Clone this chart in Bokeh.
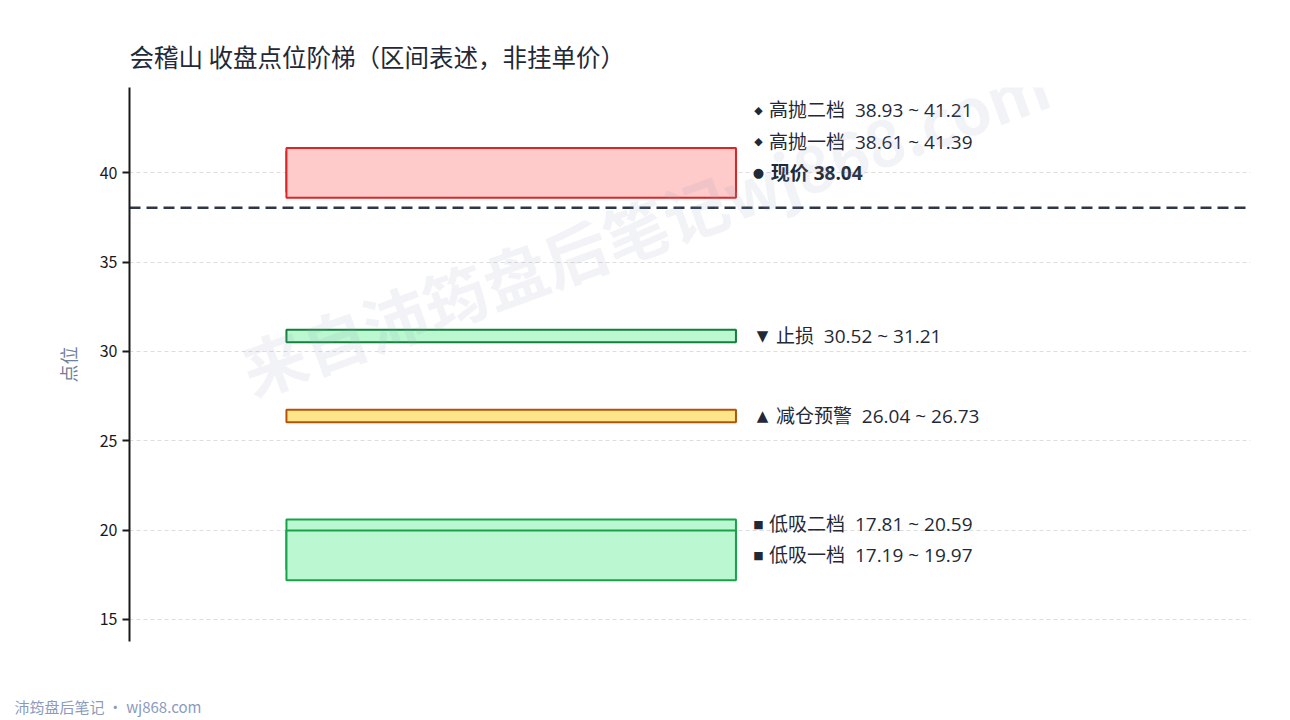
import numpy as np
from bokeh.plotting import figure
from bokeh.models import Label, Range1d, FixedTicker, ColumnDataSource, Title
from bokeh.core.properties import value
from bokeh.embed import file_html
from bokeh.resources import INLINE

# Data section ################################################################

title_text = "会稽山 收盘点位阶梯（区间表述，非挂单价）"
footer_text = "沛筠盘后笔记 · wj868.com"
watermark_text = "来自沛筠盘后笔记wj868.com"

current_price = 38.04

# zones, in drawing order (second tier drawn first, first tier on top)
zone_names = ["高抛二档", "高抛一档", "止损", "减仓预警", "低吸二档", "低吸一档"]
zone_low = [38.93, 38.61, 30.52, 26.04, 17.81, 17.19]
zone_high = [41.21, 41.39, 31.21, 26.73, 20.59, 19.97]
zone_marks = ["◆", "◆", "▼", "▲", "■", "■"]
zone_groups = ["high", "high", "stop", "warn", "low", "low"]

y_ticks = [15, 20, 25, 30, 35, 40]

# Style section ###############################################################

FONT = "Noto Sans CJK SC"
LABEL_FONT = "Open Sans, Noto Sans CJK SC"
fills = {"high": "#fecaca", "stop": "#bbf7d0", "warn": "#fde68a", "low": "#bbf7d0"}
edges = {"high": "#dc2626", "stop": "#15803d", "warn": "#b45309", "low": "#16a34a"}
mark_size = {"◆": "11px", "●": "13px", "▼": "15px", "▲": "15px", "■": "11px"}
mark_shift = {"◆": 0.0, "●": 0.0, "▼": 0.0036, "▲": 0.0036, "■": 0.0}
text_shift = {"◆": 0.0, "●": 0.0015, "▼": 0.0062, "▲": 0.0062, "■": 0.0}

BAR_X0, BAR_X1 = 0.14, 0.541
MARK_X, LABEL_X = 0.561, 0.5705
LABEL_GAP = 1.75
NB = "\u00a0"

###############################################################################

p = figure(width=1290, height=720, output_backend="svg", toolbar_location=None,
           x_range=Range1d(0, 1), y_range=Range1d(13.76, 44.78),
           min_border_left=129, min_border_right=40, min_border_top=87, min_border_bottom=79)
p.outline_line_color = None
p.background_fill_color = "white"
p.border_fill_color = "white"

p.title = Title(text=title_text, align="left", text_font=FONT, text_font_size="24.5px",
                text_font_style="normal", text_color="#1f2937", standoff=28)

p.xaxis.visible = False
p.xgrid.visible = False
p.ygrid.grid_line_color = "#dddddd"
p.ygrid.grid_line_dash = "4 3"
p.ygrid.grid_line_width = 1

p.yaxis.ticker = FixedTicker(ticks=y_ticks)
p.yaxis.axis_line_width = 2
p.yaxis.axis_line_color = "#1a1a1a"
p.yaxis.major_tick_line_width = 2
p.yaxis.major_tick_line_color = "#1a1a1a"
p.yaxis.major_tick_out = 7
p.yaxis.major_tick_in = 0
p.yaxis.minor_tick_line_color = None
p.yaxis.major_label_text_font = FONT
p.yaxis.major_label_text_font_size = "16px"
p.yaxis.major_label_text_color = "#1a1a1a"
p.yaxis.axis_label = "点位"
p.yaxis.axis_label_text_font = FONT
p.yaxis.axis_label_text_font_size = "18px"
p.yaxis.axis_label_text_font_style = "normal"
p.yaxis.axis_label_text_color = "#718096"
p.yaxis.axis_label_standoff = 16

zones = ColumnDataSource(dict(
    bottom=zone_low, top=zone_high,
    fill=[fills[g] for g in zone_groups],
    edge=[edges[g] for g in zone_groups],
))
p.quad(left=BAR_X0, right=BAR_X1, bottom="bottom", top="top", source=zones,
       fill_color="fill", line_color="edge", line_width=2)

# current price line
p.line(x=[0, 1], y=[current_price, current_price], line_color="#2d3748",
       line_width=2.5, line_dash="11 6")

# label placement: stack labels upward from the first-tier band centre
def mid(i):
    return (zone_low[i] + zone_high[i]) / 2

def zone_label(i):
    return "%s%s%s%.2f ~ %.2f" % (zone_names[i], NB, NB, zone_low[i], zone_high[i])

lab_text, lab_mark, lab_y, lab_style = [], [], [], []

# high group: 现价 first, then first tier, then second tier
base = mid(zone_names.index("高抛一档"))
lab_text.append("现价 %.2f" % current_price)
lab_mark.append("●")
lab_y.append(base)
lab_style.append("bold")
for k, name in enumerate(["高抛一档", "高抛二档"]):
    i = zone_names.index(name)
    lab_text.append(zone_label(i))
    lab_mark.append(zone_marks[i])
    lab_y.append(base + LABEL_GAP * (k + 1))
    lab_style.append("normal")

for name in ["止损", "减仓预警"]:
    i = zone_names.index(name)
    lab_text.append(zone_label(i))
    lab_mark.append(zone_marks[i])
    lab_y.append(mid(i))
    lab_style.append("normal")

base = mid(zone_names.index("低吸一档"))
for k, name in enumerate(["低吸一档", "低吸二档"]):
    i = zone_names.index(name)
    lab_text.append(zone_label(i))
    lab_mark.append(zone_marks[i])
    lab_y.append(base + LABEL_GAP * k)
    lab_style.append("normal")

labels = ColumnDataSource(dict(
    x=[LABEL_X + text_shift[m] for m in lab_mark],
    mx=[MARK_X + mark_shift[m] for m in lab_mark],
    y=lab_y, text=lab_text, style=lab_style, mark=lab_mark,
    msize=[mark_size[m] for m in lab_mark]))
p.text(x="mx", y="y", text="mark", source=labels, text_font=value("DejaVu Sans"),
       text_font_size="msize", text_color="#1f2937",
       text_align="center", text_baseline="middle")
p.text(x="x", y="y", text="text", source=labels, text_font=value(LABEL_FONT),
       text_font_size="19px", text_font_style="style", text_color="#1f2937",
       text_align="left", text_baseline="middle")

# watermark (screen units are measured from the frame's lower-left corner)
p.add_layout(Label(x=515, y=416, x_units="screen", y_units="screen", text=watermark_text,
                   angle=np.deg2rad(20), text_font=FONT, text_font_size="64px",
                   text_font_style="bold", text_color="#94a3b8", text_alpha=0.13,
                   text_align="center", text_baseline="middle"))

# footer in the lower panel
p.add_layout(Label(x=-115, y=-44, x_units="screen", y_units="screen", text=footer_text,
                   text_font=FONT, text_font_size="15px", text_color="#8c9bbd",
                   text_baseline="middle"), "below")

open("out.html", "w").write(file_html(p, INLINE))
